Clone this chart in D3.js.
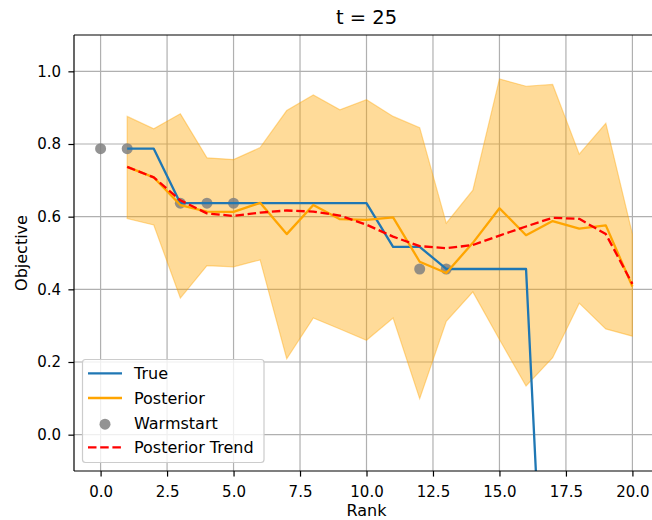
<!DOCTYPE html>
<html>
<head>
<meta charset="utf-8">
<script src="https://cdn.jsdelivr.net/npm/d3@7"></script>
<style>
  body { margin: 0; background: #fff; }
  svg { display: block; font-family: "DejaVu Sans", sans-serif; }
</style>
</head>
<body>
<svg width="652" height="520"></svg>
<script>
// ranks for the posterior / true curves
var ranks = [1, 2, 3, 4, 5, 6, 7, 8, 9, 10, 11, 12, 13, 14, 15, 16, 17, 18, 19, 20];

var trueVals = [0.787, 0.787, 0.637, 0.637, 0.637, 0.637, 0.637, 0.637, 0.637, 0.637,
                0.517, 0.517, 0.456, 0.456, 0.456, 0.456, -1.05, -1.05, -1.05, -1.05];

var postMean = [0.737, 0.708, 0.632, 0.614, 0.613, 0.638, 0.552, 0.632, 0.593, 0.591,
                0.598, 0.476, 0.445, 0.528, 0.623, 0.549, 0.588, 0.567, 0.576, 0.408];

var postUpper = [0.876, 0.842, 0.883, 0.762, 0.757, 0.790, 0.892, 0.935, 0.894, 0.922,
                 0.876, 0.845, 0.582, 0.673, 0.979, 0.959, 0.964, 0.772, 0.857, 0.552];

var postLower = [0.595, 0.577, 0.376, 0.465, 0.462, 0.481, 0.209, 0.321, 0.291, 0.260,
                 0.321, 0.099, 0.312, 0.393, 0.262, 0.134, 0.212, 0.362, 0.291, 0.271];

var trendVals = [0.737, 0.708, 0.645, 0.609, 0.602, 0.611, 0.617, 0.614, 0.603, 0.578,
                 0.545, 0.519, 0.513, 0.522, 0.548, 0.573, 0.597, 0.594, 0.552, 0.415];

var warmX = [0, 1, 3, 4, 5, 12, 13];
var warmY = [0.787, 0.787, 0.637, 0.637, 0.637, 0.456, 0.456];

var xTicks = [0, 2.5, 5, 7.5, 10, 12.5, 15, 17.5, 20];
var yTicks = [0.0, 0.2, 0.4, 0.6, 0.8, 1.0];

var svg = d3.select("svg");

var mLeft = 74, mRight = 659, mTop = 35, mBottom = 471;

var x = d3.scaleLinear().domain([-1, 21]).range([mLeft, mRight]);
var y = d3.scaleLinear().domain([-0.1, 1.1]).range([mBottom, mTop]);

svg.append("defs").append("clipPath").attr("id", "plotclip")
    .append("rect")
    .attr("x", mLeft).attr("y", mTop)
    .attr("width", mRight - mLeft).attr("height", mBottom - mTop);

// grid
var grid = svg.append("g").attr("class", "grid");
grid.selectAll("line.gx").data(xTicks).enter().append("line")
    .attr("x1", function (d) { return x(d); })
    .attr("x2", function (d) { return x(d); })
    .attr("y1", mTop).attr("y2", mBottom)
    .attr("stroke", "#b0b0b0").attr("stroke-width", 1.2);
grid.selectAll("line.gy").data(yTicks).enter().append("line")
    .attr("y1", function (d) { return y(d); })
    .attr("y2", function (d) { return y(d); })
    .attr("x1", mLeft).attr("x2", mRight)
    .attr("stroke", "#b0b0b0").attr("stroke-width", 1.2);

var plot = svg.append("g").attr("clip-path", "url(#plotclip)");

// posterior band
var area = d3.area()
    .x(function (d, i) { return x(ranks[i]); })
    .y0(function (d, i) { return y(postLower[i]); })
    .y1(function (d, i) { return y(postUpper[i]); });

plot.append("path")
    .datum(ranks)
    .attr("d", area)
    .attr("fill", "orange").attr("fill-opacity", 0.4)
    .attr("stroke", "orange").attr("stroke-opacity", 0.4).attr("stroke-width", 1.2);

// warmstart points
plot.selectAll("circle.warm").data(warmX).enter().append("circle")
    .attr("class", "warm")
    .attr("cx", function (d) { return x(d); })
    .attr("cy", function (d, i) { return y(warmY[i]); })
    .attr("r", 5.5)
    .attr("fill", "gray").attr("fill-opacity", 0.85);

function drawLine(vals, color, dash) {
    var line = d3.line()
        .x(function (d, i) { return x(ranks[i]); })
        .y(function (d) { return y(d); });
    var p = plot.append("path")
        .datum(vals)
        .attr("d", line)
        .attr("fill", "none")
        .attr("stroke", color)
        .attr("stroke-width", 2.3)
        .attr("stroke-linejoin", "round");
    if (dash) p.attr("stroke-dasharray", "8.5,3.7");
}

drawLine(trueVals, "#1f77b4", false);
drawLine(postMean, "orange", false);
drawLine(trendVals, "red", true);

// axes
var xAxis = svg.append("g")
    .attr("transform", "translate(0," + mBottom + ")")
    .call(d3.axisBottom(x).tickValues(xTicks).tickFormat(d3.format(".1f"))
        .tickSize(5.6).tickPadding(9.4));
var yAxis = svg.append("g")
    .attr("transform", "translate(" + mLeft + ",0)")
    .call(d3.axisLeft(y).tickValues(yTicks).tickFormat(d3.format(".1f"))
        .tickSize(5.6).tickPadding(7.4));

[xAxis, yAxis].forEach(function (ax) {
    ax.select(".domain").remove();
    ax.selectAll("line").attr("stroke", "#000").attr("stroke-width", 1.2);
    ax.selectAll("text").attr("fill", "#000")
        .style("font-size", "15px").style("font-family", "DejaVu Sans, sans-serif");
});

// spines
function spine(x1, y1, x2, y2) {
    svg.append("line").attr("x1", x1).attr("y1", y1).attr("x2", x2).attr("y2", y2)
        .attr("stroke", "#000").attr("stroke-width", 1.2);
}
spine(mLeft, mTop, mLeft, mBottom);
spine(mLeft, mBottom, mRight, mBottom);
spine(mLeft, mTop, mRight, mTop);
spine(mRight, mTop, mRight, mBottom);

// labels
svg.append("text")
    .attr("x", (mLeft + mRight) / 2).attr("y", 24)
    .attr("text-anchor", "middle")
    .style("font-size", "19.5px")
    .text("t = 25");

svg.append("text")
    .attr("x", (mLeft + mRight) / 2).attr("y", 516)
    .attr("text-anchor", "middle")
    .style("font-size", "16px")
    .text("Rank");

svg.append("text")
    .attr("transform", "translate(27," + ((mTop + mBottom) / 2) + ") rotate(-90)")
    .attr("text-anchor", "middle")
    .style("font-size", "16px")
    .text("Objective");

// legend
var legend = svg.append("g");
legend.append("rect")
    .attr("x", 82.5).attr("y", 359.5)
    .attr("width", 181.5).attr("height", 103)
    .attr("rx", 3).attr("ry", 3)
    .attr("fill", "#fff").attr("fill-opacity", 0.8)
    .attr("stroke", "#cccccc").attr("stroke-width", 1.2);

var legendItems = [
    {label: "True", color: "#1f77b4", kind: "line"},
    {label: "Posterior", color: "orange", kind: "line"},
    {label: "Warmstart", color: "gray", kind: "dot"},
    {label: "Posterior Trend", color: "red", kind: "dash"}
];

legendItems.forEach(function (d, i) {
    var cy = 373.3 + i * 24.7;
    if (d.kind === "dot") {
        legend.append("circle").attr("cx", 105).attr("cy", cy + 1.5).attr("r", 5.5)
            .attr("fill", d.color).attr("fill-opacity", 0.85);
    } else {
        var l = legend.append("line")
            .attr("x1", 88).attr("x2", 122).attr("y1", cy).attr("y2", cy)
            .attr("stroke", d.color).attr("stroke-width", 2.3);
        if (d.kind === "dash") l.attr("stroke-dasharray", "8.5,3.7");
    }
    legend.append("text")
        .attr("x", 134).attr("y", cy + 6)
        .style("font-size", "16px")
        .text(d.label);
});
</script>
</body>
</html>
